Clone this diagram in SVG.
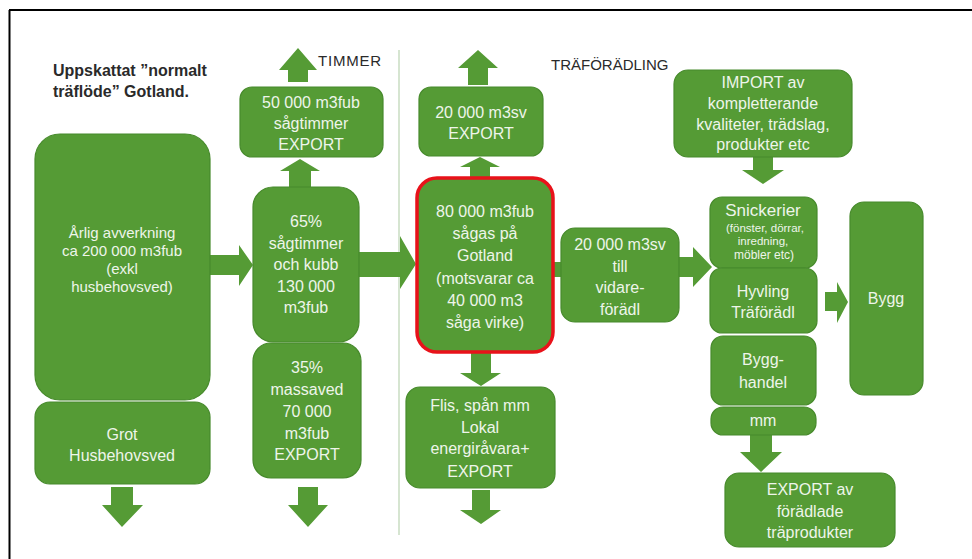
<svg xmlns="http://www.w3.org/2000/svg" width="972" height="559" viewBox="0 0 972 559">
<style>
.box{fill:#559b35;stroke:#478a2c;stroke-width:1.2}
.red{fill:#559b35;stroke:#e8121a;stroke-width:3.5}
.arr{fill:#559b35}
.t{font-family:"Liberation Sans",Arial,sans-serif;font-size:16px;fill:#eef5ea;text-anchor:middle}
.s15{font-size:15px}
.s17{font-size:17px}
.s11{font-size:11.5px}
.s12{font-size:12px}
.h{font-family:"Liberation Sans",Arial,sans-serif;fill:#2a2a2a}
</style>
<rect width="972" height="559" fill="#ffffff"/>
<g id="frame" stroke="#000" stroke-width="2" fill="none">
<line x1="9" y1="10" x2="972" y2="10"/>
<line x1="9.5" y1="10" x2="9.5" y2="559"/>
</g>
<line id="separator" x1="399" y1="50" x2="399" y2="535" stroke="#c8dcc2" stroke-width="1.5"/>
<g id="titles">
<text class="h" x="53" y="76" font-size="16" font-weight="bold">Uppskattat ”normalt</text>
<text class="h" x="53" y="97" font-size="16" font-weight="bold">träflöde” Gotland.</text>
<text class="h" x="318" y="66" font-size="15" letter-spacing="0.8">TIMMER</text>
<text class="h" x="551" y="70" font-size="15">TRÄFÖRÄDLING</text>
</g>
<g id="connectors">
<polygon class="arr" points="288,82 288,70 279,70 298,48 317,70 308,70 308,82"/>
<polygon class="arr" points="289,187 289,171 280,171 300,159 320,171 311,171 311,187"/>
<polygon class="arr" points="210,255 239,255 239,245 253,265 239,286 239,275 210,275"/>
<polygon class="arr" points="358,252 400,252 400,236 416,264 400,289 400,277 358,277"/>
<polygon class="arr" points="470,178 470,167 460,167 480,157 500,167 490,167 490,178"/>
<polygon class="arr" points="468,85 468,68 458,68 478,50 498,68 488,68 488,85"/>
<polygon class="arr" points="471,352 491,352 491,373 501,373 481,386 460,373 471,373"/>
<polygon class="arr" points="472,490 490,490 490,510 501,510 481,524 460,510 472,510"/>
<rect class="arr" x="552" y="262" width="10" height="15"/>
<polygon class="arr" points="679,257 693,257 693,247 712,267 693,287 693,277 679,277"/>
<polygon class="arr" points="753,157 773,157 773,170 784,170 763,184 742,170 753,170"/>
<polygon class="arr" points="825,292 837,292 837,282 848,302 837,323 837,311 825,311"/>
<polygon class="arr" points="750,435 772,435 772,452 782,452 761,472 740,452 750,452"/>
<polygon class="arr" points="111,487 133,487 133,505 143,505 122,527 102,505 111,505"/>
<polygon class="arr" points="298,487 318,487 318,505 328,505 308,527 288,505 298,505"/>
</g>
<g id="arlig">
<rect class="box" x="35" y="134" width="175" height="266" rx="25"/>
<text class="t s15" x="122" y="238">Årlig avverkning</text>
<text class="t s15" x="122" y="256">ca 200 000 m3fub</text>
<text class="t s15" x="122" y="274">(exkl</text>
<text class="t s15" x="122" y="292">husbehovsved)</text>
</g>
<g id="grot">
<rect class="box" x="35" y="402" width="175" height="82" rx="15"/>
<text class="t" x="122" y="440">Grot</text>
<text class="t" x="122" y="461">Husbehovsved</text>
</g>
<g id="sagtimmer">
<rect class="box" x="253" y="187" width="106" height="155" rx="20"/>
<text class="t" x="306" y="227">65%</text>
<text class="t" x="306" y="248.5">sågtimmer</text>
<text class="t" x="306" y="270">och kubb</text>
<text class="t" x="306" y="291.5">130 000</text>
<text class="t" x="306" y="313">m3fub</text>
</g>
<g id="massaved">
<rect class="box" x="253" y="343" width="108" height="135" rx="18"/>
<text class="t" x="307" y="373">35%</text>
<text class="t" x="307" y="395">massaved</text>
<text class="t" x="307" y="417">70 000</text>
<text class="t" x="307" y="439">m3fub</text>
<text class="t" x="307" y="460">EXPORT</text>
</g>
<g id="timmerexport">
<rect class="box" x="240" y="87" width="143" height="70" rx="12"/>
<text class="t" x="311" y="108">50 000 m3fub</text>
<text class="t" x="311" y="129">sågtimmer</text>
<text class="t" x="311" y="150">EXPORT</text>
</g>
<g id="svexport">
<rect class="box" x="419" y="87" width="124" height="69" rx="12"/>
<text class="t" x="481" y="118">20 000 m3sv</text>
<text class="t" x="481" y="139">EXPORT</text>
</g>
<g id="sagas">
<rect class="red" x="417" y="178" width="136" height="174" rx="20"/>
<text class="t" x="485" y="217">80 000 m3fub</text>
<text class="t" x="485" y="239">sågas på</text>
<text class="t" x="485" y="261">Gotland</text>
<text class="t" x="485" y="284">(motsvarar ca</text>
<text class="t" x="485" y="306">40 000 m3</text>
<text class="t" x="485" y="328">såga virke)</text>
</g>
<g id="vidare">
<rect class="box" x="561" y="228" width="118" height="94" rx="14"/>
<text class="t" x="620" y="250">20 000 m3sv</text>
<text class="t" x="620" y="272">till</text>
<text class="t" x="620" y="293">vidare-</text>
<text class="t" x="620" y="315">förädl</text>
</g>
<g id="flis">
<rect class="box" x="406" y="387" width="149" height="101" rx="14"/>
<text class="t" x="480" y="411">Flis, spån mm</text>
<text class="t" x="480" y="433">Lokal</text>
<text class="t" x="480" y="454">energiråvara+</text>
<text class="t" x="480" y="477">EXPORT</text>
</g>
<g id="import">
<rect class="box" x="674" y="70" width="178" height="87" rx="14"/>
<text class="t" x="763" y="88">IMPORT av</text>
<text class="t" x="763" y="109">kompletterande</text>
<text class="t" x="763" y="130">kvaliteter, trädslag,</text>
<text class="t" x="763" y="150">produkter etc</text>
</g>
<g id="snickerier">
<rect class="box" x="710" y="197" width="107" height="71" rx="12"/>
<text class="t s17" x="763" y="216">Snickerier</text>
<text class="t s11" x="765" y="232">(fönster, dörrar,</text>
<text class="t s11" x="763" y="245">inredning,</text>
<text class="t s12" x="764" y="259">möbler  etc)</text>
</g>
<g id="hyvling">
<rect class="box" x="710" y="268" width="107" height="65" rx="12"/>
<text class="t" x="763" y="297">Hyvling</text>
<text class="t" x="763" y="318">Träförädl</text>
</g>
<g id="bygghandel">
<rect class="box" x="711" y="336" width="105" height="69" rx="12"/>
<text class="t" x="763" y="365">Bygg-</text>
<text class="t" x="763" y="388">handel</text>
</g>
<g id="mm">
<rect class="box" x="711" y="407" width="105" height="28" rx="12"/>
<text class="t" x="763" y="426">mm</text>
</g>
<g id="exportav">
<rect class="box" x="725" y="473" width="170" height="74" rx="14"/>
<text class="t" x="810" y="495">EXPORT av</text>
<text class="t" x="810" y="517">förädlade</text>
<text class="t" x="810" y="538">träprodukter</text>
</g>
<g id="bygg">
<rect class="box" x="850" y="202" width="73" height="193" rx="14"/>
<text class="t" x="886" y="304">Bygg</text>
</g>
</svg>
